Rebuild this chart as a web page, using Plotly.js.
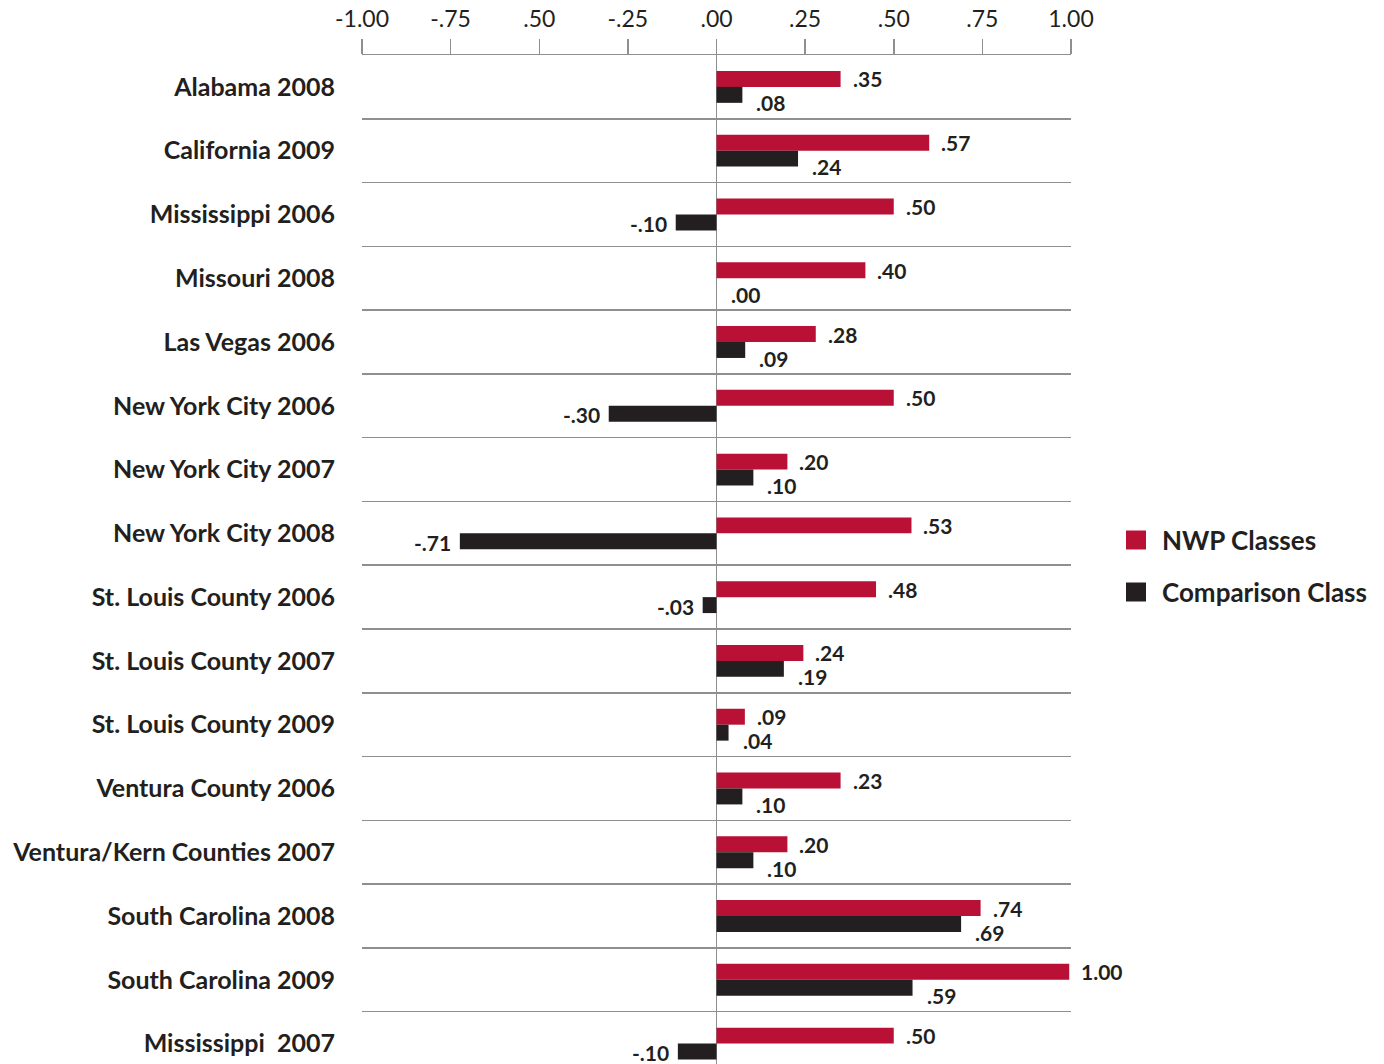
<!DOCTYPE html>
<html>
<head>
<meta charset="utf-8">
<script src="https://cdn.plot.ly/plotly-3.0.1.min.js"></script>
<style>
  html, body { margin: 0; padding: 0; background: #ffffff; overflow: hidden; }
  #chart { width: 1384px; height: 1064px; }
</style>
</head>
<body>
<div id="chart"></div>
<script>
// ---------- data ----------
const categories = [
  "Alabama 2008", "California 2009", "Mississippi 2006", "Missouri 2008",
  "Las Vegas 2006", "New York City 2006", "New York City 2007", "New York City 2008",
  "St. Louis County 2006", "St. Louis County 2007", "St. Louis County 2009",
  "Ventura County 2006", "Ventura/Kern Counties 2007", "South Carolina 2008",
  "South Carolina 2009", "Mississippi\u00a0 2007"
];
const seriesNames = ["NWP Classes", "Comparison Class"];
// bar lengths as drawn in the picture
const nwpValues  = [0.35, 0.60, 0.50, 0.42, 0.28, 0.50, 0.20, 0.55, 0.45, 0.245, 0.08, 0.35, 0.20, 0.745, 0.995, 0.50];
const compValues = [0.073, 0.23, -0.115, 0, 0.081, -0.304, 0.104, -0.724, -0.039, 0.19, 0.034, 0.073, 0.104, 0.69, 0.553, -0.109];
// value labels as printed
const nwpLabels  = [".35", ".57", ".50", ".40", ".28", ".50", ".20", ".53", ".48", ".24", ".09", ".23", ".20", ".74", "1.00", ".50"];
const compLabels = [".08", ".24", "-.10", ".00", ".09", "-.30", ".10", "-.71", "-.03", ".19", ".04", ".10", ".10", ".69", ".59", "-.10"];
// axis ticks
const xTickVals = [-1, -0.75, -0.5, -0.25, 0, 0.25, 0.5, 0.75, 1];
const xTickText = ["-1.00", "-.75", ".50", "-.25", ".00", ".25", ".50", ".75", "1.00"];

// ---------- style ----------
const RED = "#b91035";
const BLACK = "#231f20";
const GRID = "#8f8f8f";
const FONT = "Lato, 'Open Sans', sans-serif";

const W = 1384, H = 1064;
const M = { l: 362, r: 313, t: 55, b: 0 };
const plotW = W - M.l - M.r, plotH = H - M.t - M.b;
const px2x = p => (p - M.l) / plotW;
const py2y = p => (H - M.b - p) / plotH;

const traces = [
  { type: "bar", orientation: "h", name: seriesNames[0], y: categories, x: nwpValues,
    marker: { color: RED, line: { width: 0 } }, hoverinfo: "skip" },
  { type: "bar", orientation: "h", name: seriesNames[1], y: categories, x: compValues,
    marker: { color: BLACK, line: { width: 0 } }, hoverinfo: "skip" }
];

const labelFont = { family: FONT, size: 21, color: BLACK, weight: 700 };
const annotations = [];
categories.forEach((c, i) => {
  annotations.push({
    x: nwpValues[i], y: c, xref: "x", yref: "y", text: nwpLabels[i],
    showarrow: false, xanchor: "left", yanchor: "middle", xshift: 10, yshift: 8,
    font: labelFont
  });
  const neg = compValues[i] < 0;
  annotations.push({
    x: compValues[i], y: c, xref: "x", yref: "y", text: compLabels[i],
    showarrow: false, xanchor: neg ? "right" : "left", yanchor: "middle",
    xshift: neg ? -7 : 12, yshift: neg ? -9 : -16,
    font: labelFont
  });
});

// legend drawn as squares + text
const legendColors = [RED, BLACK];
const legendY = [540, 592];
const shapes = [];
seriesNames.forEach((n, k) => {
  shapes.push({
    type: "rect", xref: "paper", yref: "paper",
    x0: px2x(1126), x1: px2x(1146), y0: py2y(legendY[k] + 9.5), y1: py2y(legendY[k] - 9.5),
    fillcolor: legendColors[k], line: { width: 0 }
  });
  annotations.push({
    xref: "paper", yref: "paper", x: px2x(1160), y: py2y(legendY[k]), text: n,
    showarrow: false, xanchor: "left", yanchor: "middle",
    font: { family: FONT, size: 26, color: BLACK, weight: 700 }
  });
});

const layout = {
  width: W, height: H,
  margin: M,
  paper_bgcolor: "#ffffff", plot_bgcolor: "#ffffff",
  showlegend: false,
  barmode: "group", bargap: 0.5, bargroupgap: 0,
  xaxis: {
    range: [-1, 1], side: "top", tickmode: "array", tickvals: xTickVals, ticktext: xTickText,
    ticks: "outside", ticklen: 15, tickwidth: 1.5, tickcolor: GRID,
    showline: true, linecolor: GRID, linewidth: 1.5,
    showgrid: false, zeroline: true, zerolinecolor: GRID, zerolinewidth: 1.5,
    ticklabelstandoff: 2,
    tickfont: { family: FONT, size: 23, color: BLACK },
    fixedrange: true
  },
  yaxis: {
    type: "category", autorange: false, range: [15.32, -0.5],
    tickson: "boundaries", showgrid: true, gridcolor: GRID, gridwidth: 1.5,
    ticks: "", showline: false, zeroline: false,
    ticklabelstandoff: 26,
    tickfont: { family: FONT, size: 25, color: BLACK, weight: 700 },
    fixedrange: true
  },
  shapes: shapes,
  annotations: annotations
};

Plotly.newPlot("chart", traces, layout, { displayModeBar: false, staticPlot: true });
</script>
</body>
</html>
